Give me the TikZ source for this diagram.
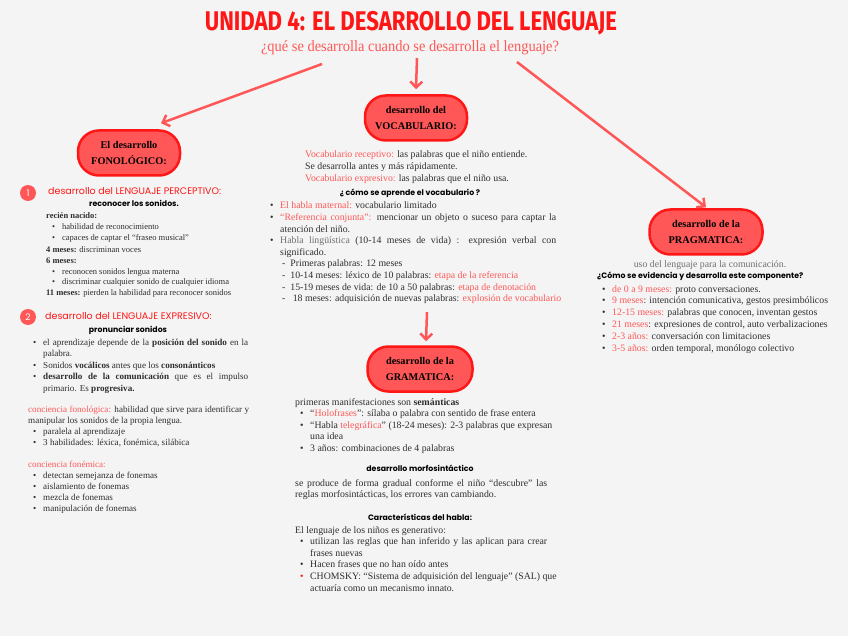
\documentclass[tikz,border=0pt]{standalone}
\usepackage{fontspec}
\setmainfont{Liberation Serif}
\newfontfamily\manofont{Poppins}
\newfontfamily\titlefont[FakeStretch=0.82]{Fira Sans}
\newfontfamily\subfont[FakeStretch=0.92]{Liberation Serif}
\usetikzlibrary{positioning, arrows.meta, calc}
\definecolor{rojo}{HTML}{FF1616}
\definecolor{rosa}{HTML}{FF5757}
\definecolor{fondo}{HTML}{F4F4F4}
\definecolor{tinta}{HTML}{2E2E2E}
\definecolor{gris}{HTML}{707070}
\newcommand{\resalta}[1]{\textcolor{rosa}{#1}}
\newcommand{\apagado}[1]{\textcolor{gris}{#1}}
\newcommand{\bul}[1][0pt]{\hspace*{#1}\makebox[10pt][l]{\textbullet}}
\newcommand{\just}[2]{\makebox[#1][s]{#2}}
\newcommand{\bloque}[1]{\begin{tabular}[t]{@{}l@{}}#1\end{tabular}}

\begin{document}
\begin{tikzpicture}[x=1pt, y=-1pt,
caja/.style={draw=rojo, line width=2.5pt, fill=rosa, rounded corners=21pt, minimum width=102pt, minimum height=45pt, align=center, font=\bfseries\fontsize{10.3}{15.5}\selectfont},
cuerpo/.style={anchor=base west, inner sep=0pt, text=tinta, font=\fontsize{9.8}{11.6}\selectfont},
linea/.style={anchor=base, inner sep=0pt, text=tinta, font=\fontsize{9.8}{11.6}\selectfont},
mano/.style={anchor=base, inner sep=0pt, font=\manofont\bfseries\fontsize{7.8}{9}\selectfont},
manoroja/.style={anchor=base west, inner sep=0pt, text=rojo, font=\manofont\fontsize{9.5}{10}\selectfont},
circulo/.style={circle, fill=rosa, minimum size=16pt, inner sep=0pt, text=white, font=\manofont\fontsize{9}{9}\selectfont},
flecha/.style={draw=rosa, line width=2.5pt, -{Straight Barb[length=6pt,width=12pt]}},
]
\useasboundingbox (0,0) rectangle (848,636);
\fill[fondo] (0,0) rectangle (848,636);

% Title
\node[inner sep=0pt, anchor=base, text=rojo, font=\titlefont\bfseries\fontsize{27}{27}\selectfont] (titulo) at (411,31) {UNIDAD 4: EL DESARROLLO DEL LENGUAJE};
\node[inner sep=0pt, anchor=base, text=rosa, font=\subfont\fontsize{15.7}{15.7}\selectfont] (pregunta) at (410,52) {¿qué se desarrolla cuando se desarrolla el lenguaje?};

% Boxes
\node[caja] (fon) at (129,153) {El desarrollo\\FONOLÓGICO:};
\node[caja] (voc) at (416,118) {desarrollo del\\VOCABULARIO:};
\node[caja, minimum width=105pt] (gra) at (420,369) {desarrollo de la\\GRAMATICA:};
\node[caja, minimum width=113pt] (pra) at (706,232) {desarrollo de la\\PRAGMATICA:};

% Arrows
\coordinate (s1) at (322,64);
\coordinate (s2) at (417,58);
\coordinate (s3) at (517,62);
\coordinate (s4) at (427,312);
\draw[flecha] (s1) -- ([xshift=32pt,yshift=6pt]fon.north);
\draw[flecha] (s2) -- ([yshift=5pt]voc.north);
\draw[flecha] (s3) -- ([yshift=1pt]pra.north);
\draw[flecha] (s4) -- ([xshift=6pt,yshift=4pt]gra.north);

% Fonologico: perceptivo
\node[circulo] (uno) at (28,193) {1};
\node[manoroja] (perc) at (48,195) {desarrollo del LENGUAJE PERCEPTIVO:};
\node[mano] (reco) at (134,207) {reconocer los sonidos.};
\node[cuerpo, font=\fontsize{8.5}{11}\selectfont] (naci) at (46,219) {\bloque{
\textbf{recién nacido:}\\
\bul[6pt]habilidad de reconocimiento\\
\bul[6pt]capaces de captar el “fraseo musical”\\
\textbf{4 meses:} discriminan voces\\
\textbf{6 meses:}\\
\bul[6pt]reconocen sonidos lengua materna\\
\bul[6pt]discriminar cualquier sonido de cualquier idioma\\
\textbf{11 meses:} pierden la habilidad para reconocer sonidos}};

% Fonologico: expresivo
\node[circulo] (dos) at (28,317) {2};
\node[manoroja] (expr) at (45,319) {desarrollo del LENGUAJE EXPRESIVO:};
\node[mano] (pron) at (128,332) {pronunciar sonidos};
\node[cuerpo, font=\fontsize{9.1}{11.5}\selectfont] (apre) at (33,345) {\bloque{
\bul\just{205pt}{el aprendizaje depende de la \textbf{posición del sonido} en la}\\
\hspace*{10pt}palabra.\\
\bul Sonidos \textbf{vocálicos} antes que los \textbf{consonánticos}\\
\bul\just{205pt}{\textbf{desarrollo de la comunicación} que es el impulso}\\
\hspace*{10pt}primario. Es \textbf{progresiva.}}};
\node[cuerpo, font=\fontsize{9.1}{11.2}\selectfont] (cfon) at (28,412) {\bloque{
\just{221pt}{\resalta{conciencia fonológica:} habilidad que sirve para identificar y}\\
manipular los sonidos de la propia lengua.\\
\bul[5pt]paralela al aprendizaje\\
\bul[5pt]3 habilidades: léxica, fonémica, silábica}};
\node[cuerpo, font=\fontsize{9.1}{11.2}\selectfont] (cfne) at (28,467) {\bloque{
\resalta{conciencia fonémica:}\\
\bul[5pt]detectan semejanza de fonemas\\
\bul[5pt]aislamiento de fonemas\\
\bul[5pt]mezcla de fonemas\\
\bul[5pt]manipulación de fonemas}};

% Vocabulario
\node[cuerpo] (rece) at (305,158) {\bloque{
\resalta{Vocabulario receptivo:} las palabras que el niño entiende.\\
Se desarrolla antes y más rápidamente.\\
\resalta{Vocabulario expresivo:} las palabras que el niño usa.}};
\node[mano] (como) at (410,196) {¿ cómo se aprende el vocabulario ?};
\node[cuerpo] (habl) at (270,209) {\bloque{
\bul\resalta{El habla maternal:} vocabulario limitado\\
\bul\just{276pt}{\resalta{“Referencia conjunta”:} mencionar un objeto o suceso para captar la}\\
\hspace*{10pt}atención del niño.\\
\bul\just{276pt}{\apagado{Habla lingüística} (10-14 meses de vida) : expresión verbal con}\\
\hspace*{10pt}significado.\\
\hspace*{12pt}-\ \ Primeras palabras: 12 meses\\
\hspace*{12pt}-\ \ 10-14 meses: léxico de 10 palabras: \resalta{etapa de la referencia}\\
\hspace*{12pt}-\ \ 15-19 meses de vida: de 10 a 50 palabras: \resalta{etapa de denotación}\\
\hspace*{12pt}-\ \ \ 18 meses: adquisición de nuevas palabras: \resalta{explosión de vocabulario}}};

% Pragmatica
\node[linea, text=gris] (uso) at (710,268) {uso del lenguaje para la comunicación.};
\node[mano, anchor=base west] (evid) at (597,278) {¿Cómo se evidencia y desarrolla este componente?};
\node[cuerpo, font=\fontsize{9.8}{11.8}\selectfont] (meses) at (602,292) {\bloque{
\bul\resalta{de 0 a 9 meses:} proto conversaciones.\\
\bul\resalta{9 meses}: intención comunicativa, gestos presimbólicos\\
\bul\resalta{12-15 meses:} palabras que conocen, inventan gestos\\
\bul\resalta{21 meses}: expresiones de control, auto verbalizaciones\\
\bul\resalta{2-3 años:} conversación con limitaciones\\
\bul\resalta{3-5 años:} orden temporal, monólogo colectivo}};

% Gramatica
\node[cuerpo] (prim) at (295,405) {\bloque{
primeras manifestaciones son \textbf{semánticas}\\
\bul[5pt]“\resalta{Holofrases}”: sílaba o palabra con sentido de frase entera\\
\bul[5pt]“Habla \resalta{telegráfica}” (18-24 meses): 2-3 palabras que expresan\\
\hspace*{15pt}una idea\\
\bul[5pt]3 años: combinaciones de 4 palabras}};
\node[mano] (morf) at (420,471) {desarrollo morfosintáctico};
\node[cuerpo] (grad) at (295,486) {\bloque{
\just{252pt}{se produce de forma gradual conforme el niño “descubre” las}\\
reglas morfosintácticas, los errores van cambiando.}};
\node[mano] (cara) at (420,520) {Características del habla:};
\node[cuerpo] (gene) at (295,533) {\bloque{
El lenguaje de los niños es generativo:\\
\bul[5pt]\just{237pt}{utilizan las reglas que han inferido y las aplican para crear}\\
\hspace*{15pt}frases nuevas\\
\bul[5pt]Hacen frases que no han oído antes\\
\hspace*{5pt}\makebox[10pt][l]{\textcolor{rojo}{\textbullet}}CHOMSKY: “Sistema de adquisición del lenguaje” (SAL) que\\
\hspace*{15pt}actuaría como un mecanismo innato.}};

\end{tikzpicture}
\end{document}
